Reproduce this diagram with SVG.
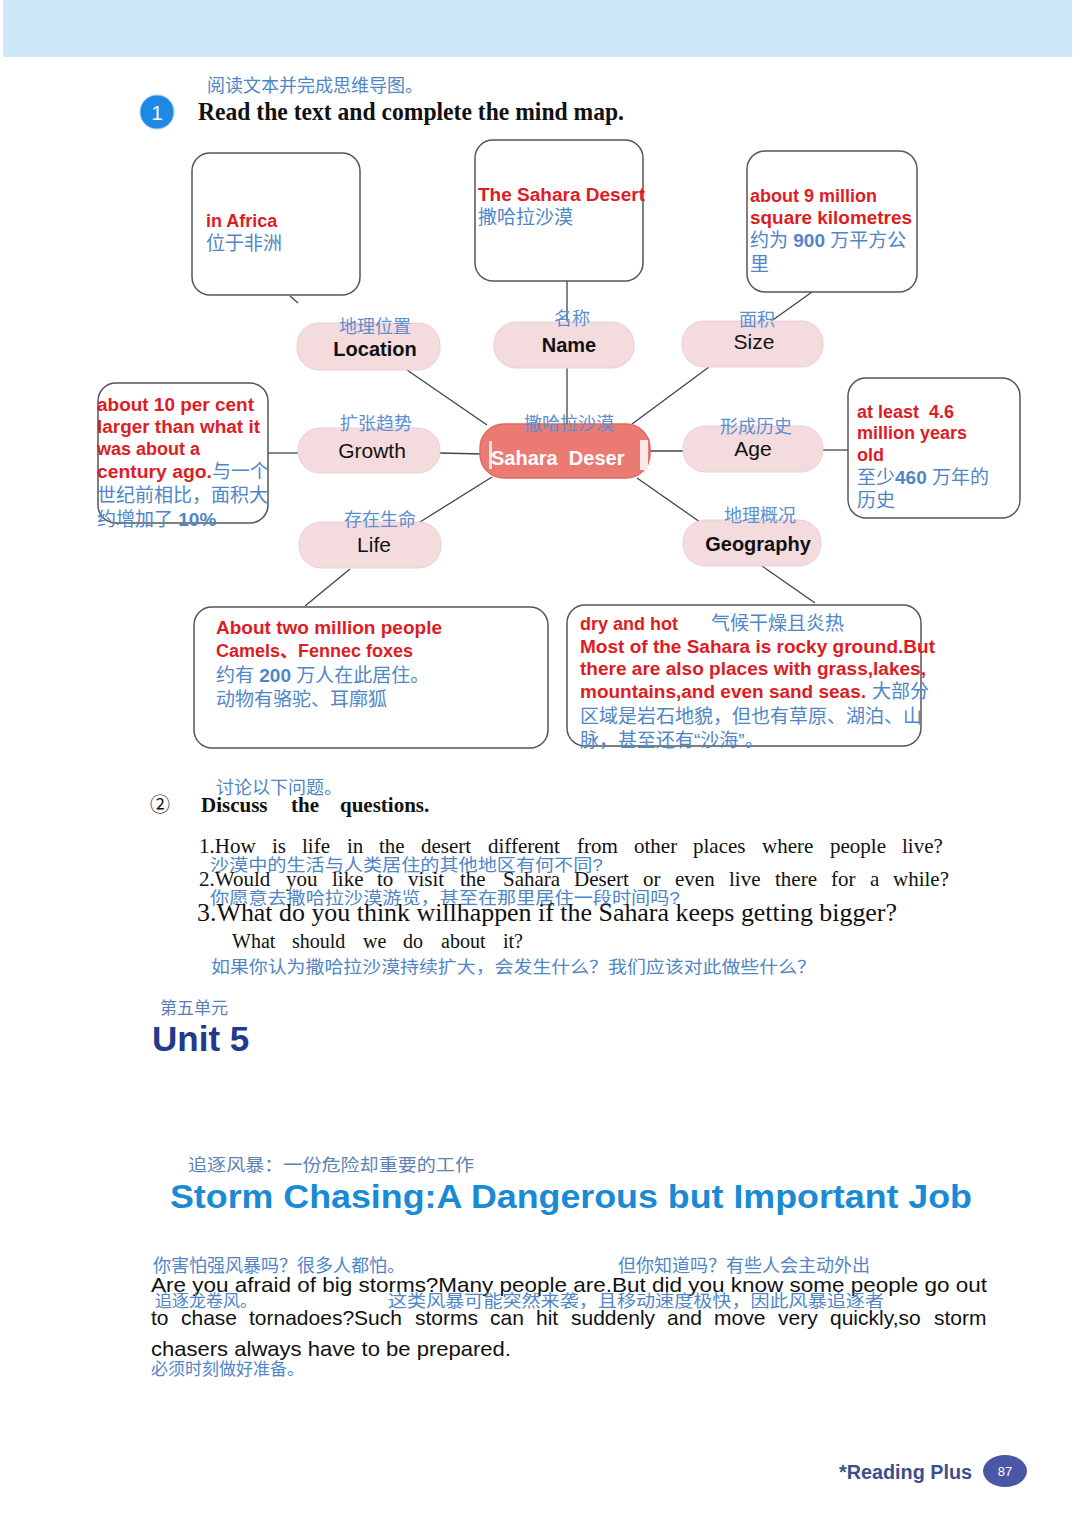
<svg xmlns="http://www.w3.org/2000/svg" width="1080" height="1527" viewBox="0 0 1080 1527">
<style>
.zh{font-family:"Liberation Sans","Noto Sans CJK SC",sans-serif;fill:#4f86c6;font-size:18px}
.zb{font-family:"Liberation Sans","Noto Sans CJK SC",sans-serif;fill:#4f86c6;font-size:19px}
.zs{font-family:"Liberation Sans","Noto Sans CJK SC",sans-serif;fill:#4f86c6;font-size:17px}
.red{font-family:"Liberation Sans","Noto Sans CJK SC",sans-serif;fill:#dd1c24;font-size:18px;font-weight:bold}
.box{fill:#fff;stroke:#555;stroke-width:1.5}
.pill{fill:#f3dbde;stroke:#ead0d3;stroke-width:1}
.pt{font-family:"Liberation Sans",sans-serif;font-size:21px;fill:#111;text-anchor:middle}
.pb{font-family:"Liberation Sans",sans-serif;font-size:20px;font-weight:bold;fill:#111;text-anchor:middle}
.pz{font-family:"Liberation Sans","Noto Sans CJK SC",sans-serif;font-size:18px;fill:#5b8fd0;text-anchor:middle}
.ser{font-family:"Liberation Serif","Noto Sans CJK SC",serif;fill:#111;font-size:20px}
.body{font-family:"Liberation Sans",sans-serif;font-size:21px;fill:#111}
.conn{stroke:#444;stroke-width:1.3;fill:none}
</style>
<rect x="3" y="0" width="1069" height="57" fill="#cde9f7"/>
<g id="header">
<text class="zh" x="207" y="92">阅读文本并完成思维导图。</text>
<circle cx="157" cy="112" r="17" fill="#1e88e5" stroke="#9fd0f5" stroke-width="1"/>
<text x="157" y="120" font-family="Liberation Sans,sans-serif" font-size="21" fill="#fff" text-anchor="middle">1</text>
<text class="ser" x="198" y="120" style="font-size:25px;font-weight:bold" textLength="426" lengthAdjust="spacingAndGlyphs">Read the text and complete the mind map.</text>
</g>
<g id="connectors">
<line class="conn" x1="290" y1="296" x2="298" y2="303"/>
<line class="conn" x1="407" y1="370" x2="487" y2="425"/>
<line class="conn" x1="567" y1="281" x2="567" y2="322"/>
<line class="conn" x1="567" y1="368" x2="567" y2="424"/>
<line class="conn" x1="812" y1="292" x2="770" y2="322"/>
<line class="conn" x1="709" y1="367" x2="632" y2="424"/>
<line class="conn" x1="268" y1="453" x2="298" y2="453"/>
<line class="conn" x1="440" y1="453" x2="482" y2="454"/>
<line class="conn" x1="650" y1="451" x2="683" y2="451"/>
<line class="conn" x1="823" y1="450" x2="848" y2="450"/>
<line class="conn" x1="420" y1="522" x2="492" y2="477"/>
<line class="conn" x1="350" y1="569" x2="305" y2="606"/>
<line class="conn" x1="637" y1="478" x2="700" y2="522"/>
<line class="conn" x1="762" y1="566" x2="815" y2="603"/>
</g>
<g id="box-location">
<rect class="box" x="192" y="153" width="168" height="142" rx="18"/>
<text class="red" x="206" y="227">in Africa</text>
<text class="zb" x="206" y="250">位于非洲</text>
</g>
<g id="box-name">
<rect class="box" x="475" y="140" width="168" height="141" rx="18"/>
<text class="red" x="478" y="201" textLength="167" lengthAdjust="spacingAndGlyphs">The Sahara Desert</text>
<text class="zb" x="478" y="224">撒哈拉沙漠</text>
</g>
<g id="box-size">
<rect class="box" x="747" y="151" width="170" height="141" rx="18"/>
<text class="red" x="750" y="202">about 9 million</text>
<text class="red" x="750" y="224" textLength="162" lengthAdjust="spacingAndGlyphs">square kilometres</text>
<text class="zb" x="750" y="247">约为 <tspan font-weight="bold">900</tspan> 万平方公</text>
<text class="zb" x="750" y="271">里</text>
</g>
<g id="box-growth">
<rect class="box" x="98" y="383" width="170" height="140" rx="18"/>
<text class="red" x="97" y="411" textLength="157" lengthAdjust="spacingAndGlyphs">about 10 per cent</text>
<text class="red" x="97" y="433" textLength="163" lengthAdjust="spacingAndGlyphs">larger than what it</text>
<text class="red" x="97" y="455">was about a</text>
<text class="red" x="97" y="478" textLength="115" lengthAdjust="spacingAndGlyphs">century ago.</text>
<text class="zb" x="212" y="478">与一个</text>
<text class="zb" x="97" y="502" textLength="171" lengthAdjust="spacingAndGlyphs">世纪前相比，面积大</text>
<text class="zb" x="97" y="526">约增加了 <tspan font-weight="bold">10%</tspan></text>
</g>
<g id="box-age">
<rect class="box" x="848" y="378" width="172" height="140" rx="18"/>
<text class="red" x="857" y="418" xml:space="preserve">at least  4.6</text>
<text class="red" x="857" y="439">million years</text>
<text class="red" x="857" y="461">old</text>
<text class="zb" x="857" y="484">至少<tspan font-weight="bold">460</tspan> 万年的</text>
<text class="zb" x="857" y="507">历史</text>
</g>
<g id="box-life">
<rect class="box" x="194" y="607" width="354" height="141" rx="18"/>
<text class="red" x="216" y="634" textLength="226" lengthAdjust="spacingAndGlyphs">About two million people</text>
<text class="red" x="216" y="657">Camels、Fennec foxes</text>
<text class="zb" x="216" y="682">约有 <tspan font-weight="bold">200</tspan> 万人在此居住。</text>
<text class="zb" x="216" y="706">动物有骆驼、耳廓狐</text>
</g>
<g id="box-geography">
<rect class="box" x="567" y="605" width="354" height="141" rx="18"/>
<text class="red" x="580" y="630">dry and hot</text>
<text class="zb" x="711" y="630">气候干燥且炎热</text>
<text class="red" x="580" y="653" textLength="355" lengthAdjust="spacingAndGlyphs">Most of the Sahara is rocky ground.But</text>
<text class="red" x="580" y="675" textLength="346" lengthAdjust="spacingAndGlyphs">there are also places with grass,lakes,</text>
<text class="red" x="580" y="698" textLength="286" lengthAdjust="spacingAndGlyphs">mountains,and even sand seas.</text>
<text class="zb" x="872" y="698">大部分</text>
<text class="zb" x="580" y="723" textLength="342" lengthAdjust="spacingAndGlyphs">区域是岩石地貌，但也有草原、湖泊、山</text>
<text class="zb" x="580" y="747">脉，甚至还有“沙海”。</text>
</g>
<g id="pill-location">
<rect class="pill" x="297" y="323" width="143" height="47" rx="22"/>
<text class="pz" x="375" y="333">地理位置</text>
<text class="pb" x="375" y="356">Location</text>
</g>
<g id="pill-name">
<rect class="pill" x="494" y="322" width="140" height="46" rx="22"/>
<text class="pz" x="572" y="325">名称</text>
<text class="pb" x="569" y="352">Name</text>
</g>
<g id="pill-size">
<rect class="pill" x="682" y="321" width="141" height="46" rx="22"/>
<text class="pz" x="757" y="326">面积</text>
<text class="pt" x="754" y="349">Size</text>
</g>
<g id="pill-growth">
<rect class="pill" x="298" y="428" width="142" height="45" rx="22"/>
<text class="pz" x="376" y="430">扩张趋势</text>
<text class="pt" x="372" y="458">Growth</text>
</g>
<g id="pill-age">
<rect class="pill" x="683" y="426" width="140" height="46" rx="22"/>
<text class="pz" x="756" y="433">形成历史</text>
<text class="pt" x="753" y="456">Age</text>
</g>
<g id="pill-life">
<rect class="pill" x="299" y="522" width="142" height="46" rx="22"/>
<text class="pz" x="380" y="526">存在生命</text>
<text class="pt" x="374" y="552">Life</text>
</g>
<g id="pill-geography">
<rect class="pill" x="683" y="520" width="138" height="46" rx="22"/>
<text class="pz" x="760" y="522">地理概况</text>
<text class="pb" x="758" y="551">Geography</text>
</g>
<g id="center">
<rect x="480" y="424" width="170" height="54" rx="24" fill="#eb7a72" stroke="#e06a62" stroke-width="1.5"/>
<rect x="489" y="441" width="3" height="28" fill="#fbe3e0"/>
<rect x="640" y="440" width="8" height="30" fill="#fbe9e7"/>
<text class="pz" x="569" y="430">撒哈拉沙漠</text>
<text x="491" y="465" font-family="Liberation Sans,sans-serif" font-size="20" font-weight="bold" fill="#fff" xml:space="preserve">Sahara  Deser</text>
</g>
<g id="discuss">
<text class="zh" x="216" y="794">讨论以下问题。</text>
<text class="ser" x="150" y="812">②</text>
<text class="ser" y="812" font-weight="bold" style="font-size:21px"><tspan x="201">Discuss</tspan><tspan x="291">the</tspan><tspan x="340">questions.</tspan></text>
<text class="ser" y="853" style="font-size:21px"><tspan x="199">1.How</tspan><tspan x="272">is</tspan><tspan x="302">life</tspan><tspan x="347">in</tspan><tspan x="379">the</tspan><tspan x="421">desert</tspan><tspan x="488">different</tspan><tspan x="577">from</tspan><tspan x="634">other</tspan><tspan x="693">places</tspan><tspan x="762">where</tspan><tspan x="830">people</tspan><tspan x="902">live?</tspan></text>
<text class="zs" x="210" y="871" textLength="393" lengthAdjust="spacingAndGlyphs">沙漠中的生活与人类居住的其他地区有何不同?</text>
<text class="ser" y="886" style="font-size:21px"><tspan x="199">2.Would</tspan><tspan x="286">you</tspan><tspan x="332">like</tspan><tspan x="377">to</tspan><tspan x="408">visit</tspan><tspan x="460">the</tspan><tspan x="503">Sahara</tspan><tspan x="574">Desert</tspan><tspan x="643">or</tspan><tspan x="675">even</tspan><tspan x="729">live</tspan><tspan x="775">there</tspan><tspan x="831">for</tspan><tspan x="870">a</tspan><tspan x="893">while?</tspan></text>
<text class="zs" x="210" y="904" textLength="470" lengthAdjust="spacingAndGlyphs">你愿意去撒哈拉沙漠游览，甚至在那里居住一段时间吗?</text>
<text class="ser" x="197" y="921" style="font-size:25px" textLength="700" lengthAdjust="spacingAndGlyphs">3.What do you think willhappen if the Sahara keeps getting bigger?</text>
<text class="ser" y="948" style="font-size:20px"><tspan x="232">What</tspan><tspan x="292">should</tspan><tspan x="363">we</tspan><tspan x="403">do</tspan><tspan x="441">about</tspan><tspan x="503">it?</tspan></text>
<text class="zs" x="211" y="973" textLength="605" lengthAdjust="spacingAndGlyphs">如果你认为撒哈拉沙漠持续扩大，会发生什么？我们应该对此做些什么？</text>
</g>
<g id="unit">
<text class="zs" x="160" y="1014" style="fill:#5a7fb5">第五单元</text>
<text x="152" y="1051" font-family="Liberation Sans,sans-serif" font-size="35" font-weight="bold" fill="#233a8c">Unit 5</text>
</g>
<g id="title">
<text class="zs" x="188" y="1171" style="fill:#5b82b5" textLength="286" lengthAdjust="spacingAndGlyphs">追逐风暴：一份危险却重要的工作</text>
<text x="170" y="1208" font-family="Liberation Sans,sans-serif" font-size="34" font-weight="bold" fill="#1a8ad4" textLength="802" lengthAdjust="spacingAndGlyphs">Storm Chasing:A Dangerous but Important Job</text>
</g>
<g id="paragraph">
<text class="zh" x="153" y="1272">你害怕强风暴吗？很多人都怕。</text>
<text class="zh" x="618" y="1272">但你知道吗？有些人会主动外出</text>
<text class="body" x="151" y="1292" textLength="836" lengthAdjust="spacingAndGlyphs">Are you afraid of big storms?Many people are.But did you know some people go out</text>
<text class="zs" x="155" y="1307">追逐龙卷风。</text>
<text class="zs" x="388" y="1307" textLength="496" lengthAdjust="spacingAndGlyphs">这类风暴可能突然来袭，且移动速度极快，因此风暴追逐者</text>
<text class="body" y="1325"><tspan x="151">to</tspan><tspan x="181">chase</tspan><tspan x="249">tornadoes?Such</tspan><tspan x="415">storms</tspan><tspan x="490">can</tspan><tspan x="536">hit</tspan><tspan x="571">suddenly</tspan><tspan x="667">and</tspan><tspan x="714">move</tspan><tspan x="778">very</tspan><tspan x="830">quickly,so</tspan><tspan x="934">storm</tspan></text>
<text class="body" x="151" y="1356" textLength="360" lengthAdjust="spacingAndGlyphs">chasers always have to be prepared.</text>
<text class="zs" x="151" y="1375">必须时刻做好准备。</text>
</g>
<g id="footer">
<text x="839" y="1479" font-family="Liberation Sans,sans-serif" font-size="20" font-weight="bold" fill="#3d4f8a" textLength="133" lengthAdjust="spacingAndGlyphs">*Reading Plus</text>
<ellipse cx="1005" cy="1471" rx="22" ry="16" fill="#4a56a6"/>
<text x="1005" y="1476" font-family="Liberation Sans,sans-serif" font-size="13" fill="#fff" text-anchor="middle">87</text>
</g>
</svg>
